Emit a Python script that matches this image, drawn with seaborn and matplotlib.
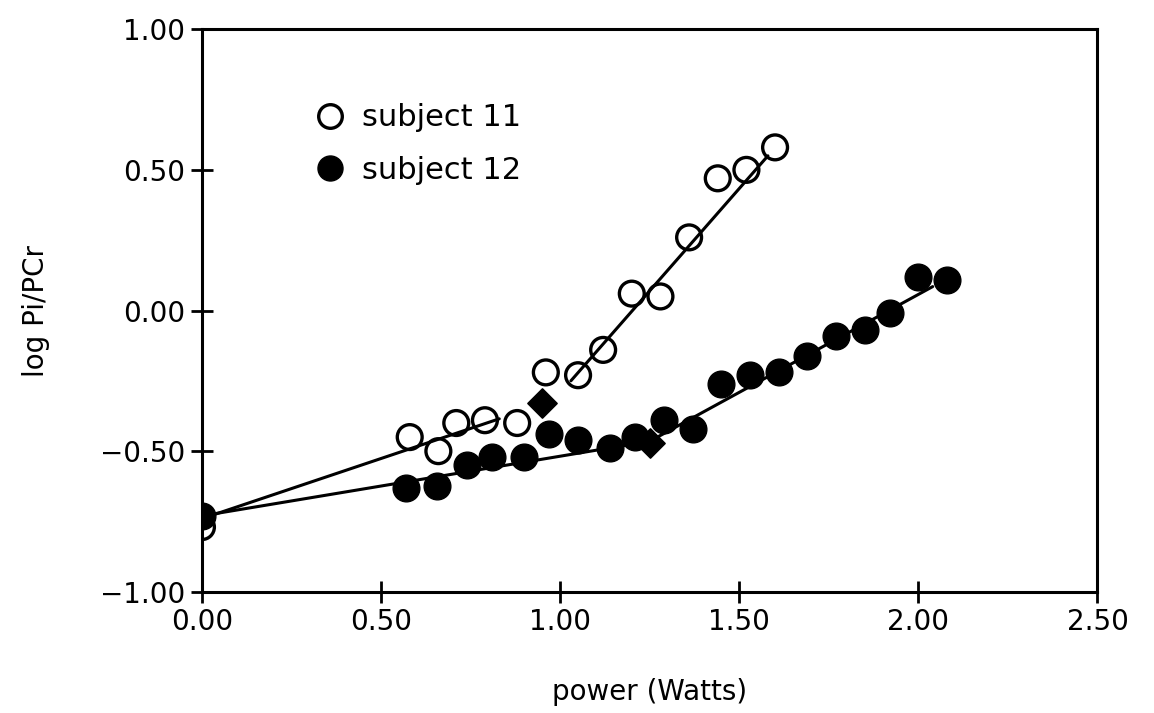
import numpy as np
import pandas as pd
import matplotlib
matplotlib.use("Agg")
import matplotlib.pyplot as plt
import seaborn as sns

# ---- data ----
power_s11 = [0.00, 0.58, 0.66, 0.71, 0.79, 0.88, 0.96, 1.05, 1.12, 1.20, 1.28, 1.36, 1.44, 1.52, 1.60]
logr_s11 = [-0.77, -0.45, -0.50, -0.40, -0.39, -0.40, -0.22, -0.23, -0.14, 0.06, 0.05, 0.26, 0.47, 0.50, 0.58]

power_s12 = [0.00, 0.57, 0.655, 0.74, 0.81, 0.90, 0.97, 1.05, 1.14, 1.21, 1.29, 1.37, 1.45,
             1.53, 1.61, 1.69, 1.77, 1.85, 1.92, 2.00, 2.08]
logr_s12 = [-0.73, -0.63, -0.625, -0.55, -0.52, -0.52, -0.44, -0.46, -0.49, -0.45, -0.39, -0.42, -0.26,
            -0.23, -0.22, -0.16, -0.09, -0.07, -0.01, 0.12, 0.11]

# fitted regression segments (start/end values)
fit_s11_a_x = [0.00, 0.83]
fit_s11_a_y = [-0.74, -0.385]
fit_s11_b_x = [1.03, 1.58]
fit_s11_b_y = [-0.25, 0.55]
fit_s12_a_x = [0.00, 1.25]
fit_s12_a_y = [-0.73, -0.465]
fit_s12_b_x = [1.25, 2.04]
fit_s12_b_y = [-0.465, 0.085]

# breakpoints (diamonds)
break_x = [0.95, 1.25]
break_y = [-0.33, -0.47]

series_labels = ["subject 11", "subject 12"]
x_ticks = [0.00, 0.50, 1.00, 1.50, 2.00, 2.50]
y_ticks = [-1.00, -0.50, 0.00, 0.50, 1.00]

# ---- plotting ----
sns.set_style("ticks")
plt.rcParams["font.family"] = ["DejaVu Sans"]
plt.rcParams["text.color"] = "black"
plt.rcParams["axes.labelcolor"] = "black"

fig = plt.figure(figsize=(11.54, 7.13), dpi=100)
ax = fig.add_axes([0.175, 0.170, 0.776, 0.789])

lw = 2.2
for xs, ys in [(fit_s11_a_x, fit_s11_a_y), (fit_s11_b_x, fit_s11_b_y),
               (fit_s12_a_x, fit_s12_a_y), (fit_s12_b_x, fit_s12_b_y)]:
    sns.lineplot(x=xs, y=ys, ax=ax, color="black", linewidth=lw, zorder=2,
                 estimator=None, sort=False)

df11 = pd.DataFrame({"power": power_s11, "logr": logr_s11})
df12 = pd.DataFrame({"power": power_s12, "logr": logr_s12})

sns.scatterplot(data=df11, x="power", y="logr", ax=ax, marker="o", s=320,
                facecolor="none", edgecolor="black", linewidth=2.4, zorder=3)
sns.scatterplot(data=df12, x="power", y="logr", ax=ax, marker="o", s=370,
                color="black", edgecolor="black", linewidth=1, zorder=4)
sns.scatterplot(x=break_x, y=break_y, ax=ax, marker="D", s=220,
                color="black", edgecolor="black", zorder=3)

# legend
from matplotlib.lines import Line2D
handles = [
    Line2D([], [], marker="o", linestyle="none", markersize=17, markerfacecolor="white",
           markeredgecolor="black", markeredgewidth=2.4),
    Line2D([], [], marker="o", linestyle="none", markersize=18, markerfacecolor="black",
           markeredgecolor="black"),
]
leg = ax.legend(handles, series_labels, loc="upper left", bbox_to_anchor=(0.112, 0.89),
                frameon=False, fontsize=22, handletextpad=0.55, labelspacing=0.78,
                borderaxespad=0, handlelength=1.0)
for t in leg.get_texts():
    t.set_color("black")

ax.set_xlim(0, 2.5)
ax.set_ylim(-1.0, 1.0)
ax.set_xticks(x_ticks)
ax.set_yticks(y_ticks)
ax.set_xticklabels([f"{t:.2f}" for t in x_ticks])
ax.set_yticklabels([f"{t:.2f}".replace("-", "\u2212") for t in y_ticks])
ax.tick_params(axis="both", direction="inout", length=16, width=2, labelsize=20,
               color="black", labelcolor="black")
ax.tick_params(axis="x", pad=4)
ax.tick_params(axis="y", pad=4)
for sp in ax.spines.values():
    sp.set_visible(True)
    sp.set_linewidth(2.2)
    sp.set_color("black")

ax.set_xlabel("power (Watts)", fontsize=20, labelpad=30, color="black")
ax.set_ylabel("log Pi/PCr", fontsize=20, labelpad=36, color="black")

fig.savefig("out.png", dpi=100, facecolor="white")
